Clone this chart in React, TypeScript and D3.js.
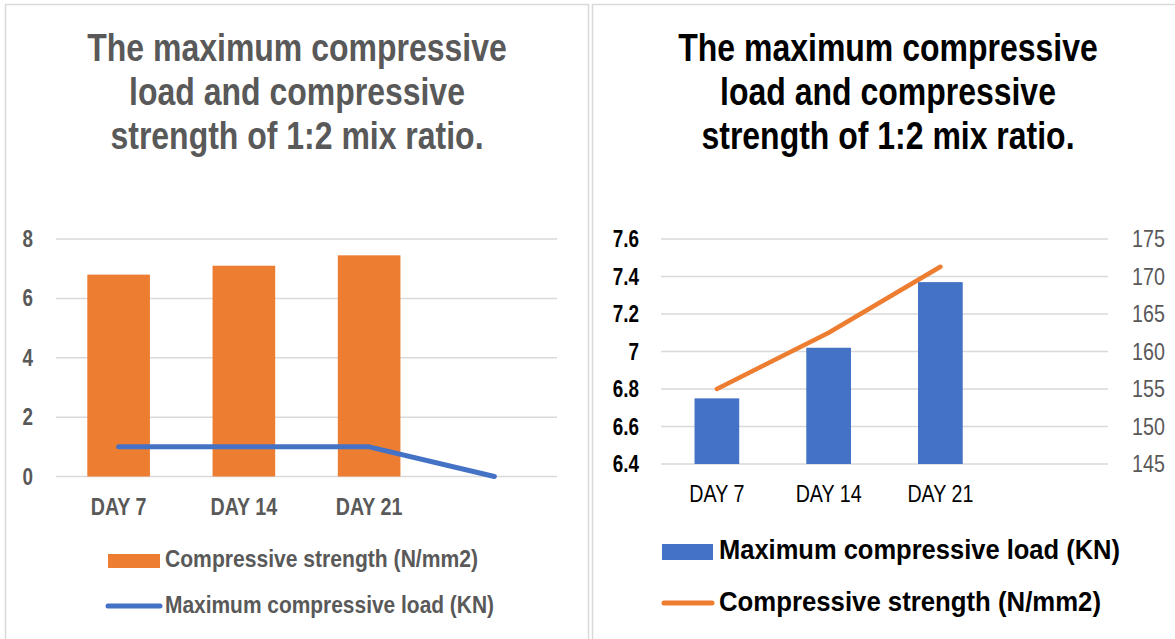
import React from "react";
import * as d3 from "d3";

const categories = ["DAY 7", "DAY 14", "DAY 21", ""];
const leftStrength = [6.8, 7.1, 7.45];
const leftLoad = [1, 1, 1, 0];
const leftTicks = [0, 2, 4, 6, 8];

const rightLoad = [6.75, 7.02, 7.37];
const rightStrength = [155, 162.5, 171.3];
const rightLeftTicks = [6.4, 6.6, 6.8, 7, 7.2, 7.4, 7.6];
const rightRightTicks = [145, 150, 155, 160, 165, 170, 175];

const titleLines = ["The maximum compressive", "load and compressive", "strength of 1:2 mix ratio."];
const strengthLabel = "Compressive strength (N/mm2)";
const loadLabel = "Maximum compressive load (KN)";

const ORANGE = "#ED7D31";
const BLUE = "#4472C4";
const GRID = "#D9D9D9";
const GRAY = "#595959";
const FONT = "'Liberation Sans', Arial, sans-serif";
const SX = 0.82;

function NText({ x, y, anchor = "start", size, weight = "bold", fill, children, width }: any) {
  if (width) {
    return (
      <text x={x} y={y} textAnchor={anchor} fontSize={size} fontWeight={weight} fill={fill}
        fontFamily={FONT} textLength={width} lengthAdjust="spacingAndGlyphs">{children}</text>
    );
  }
  return (
    <text transform={`translate(${x},${y}) scale(${SX},1)`} textAnchor={anchor} fontSize={size}
      fontWeight={weight} fill={fill} fontFamily={FONT}>{children}</text>
  );
}

function LeftChart() {
  const x = d3.scaleBand<string>().domain(categories).range([56, 557]).paddingInner(0.5).paddingOuter(0.25);
  const y = d3.scaleLinear().domain([0, 8]).range([476.5, 239]);
  const cx = (c: string) => (x(c) as number) + x.bandwidth() / 2;
  const line = d3.line<number>().x((_, i) => cx(categories[i])).y((d) => y(d));
  return (
    <g>
      <rect x={5.5} y={4.5} width={583} height={660} fill="#fff" stroke={GRID} strokeWidth={1.5} />
      {titleLines.map((t, i) => (
        <NText key={i} x={297} y={61 + i * 44} anchor="middle" size={39} fill={GRAY}>{t}</NText>
      ))}
      {leftTicks.map((t) => (
        <g key={t}>
          <line x1={56} x2={557} y1={y(t)} y2={y(t)} stroke={GRID} strokeWidth={1.5} />
          <NText x={33} y={y(t) + 8} anchor="end" size={23} fill={GRAY}>{String(t)}</NText>
        </g>
      ))}
      {leftStrength.map((v, i) => (
        <rect key={i} x={x(categories[i])} y={y(v)} width={x.bandwidth()} height={y(0) - y(v)} fill={ORANGE} />
      ))}
      <path d={line(leftLoad) as string} fill="none" stroke={BLUE} strokeWidth={5} strokeLinecap="round" strokeLinejoin="round" />
      {categories.map((c) => (
        <NText key={c} x={cx(c)} y={515} anchor="middle" size={24} fill={GRAY}>{c}</NText>
      ))}
      <rect x={108} y={554} width={52} height={14} fill={ORANGE} />
      <NText x={165} y={567} size={24} fill={GRAY} width={313}>{strengthLabel}</NText>
      <line x1={108} x2={160} y1={606} y2={606} stroke={BLUE} strokeWidth={5} strokeLinecap="round" />
      <NText x={165} y={613} size={24} fill={GRAY} width={329}>{loadLabel}</NText>
    </g>
  );
}

function RightChart() {
  const x = d3.scaleBand<string>().domain(categories).range([661, 1108]).paddingInner(0.6).paddingOuter(0.3);
  const yL = d3.scaleLinear().domain([6.4, 7.6]).range([464, 239]);
  const yR = d3.scaleLinear().domain([145, 175]).range([464, 239]);
  const cx = (c: string) => (x(c) as number) + x.bandwidth() / 2;
  const line = d3.line<number>().x((_, i) => cx(categories[i])).y((d) => yR(d));
  return (
    <g>
      <rect x={592.5} y={4.5} width={620} height={660} fill="#fff" stroke={GRID} strokeWidth={1.5} />
      {titleLines.map((t, i) => (
        <NText key={i} x={888} y={61 + i * 44} anchor="middle" size={39} fill="#000">{t}</NText>
      ))}
      {rightLeftTicks.map((t) => (
        <g key={t}>
          <line x1={661} x2={1108} y1={yL(t)} y2={yL(t)} stroke={GRID} strokeWidth={1.5} />
          <NText x={639} y={yL(t) + 8} anchor="end" size={23} fill="#000">{String(t)}</NText>
        </g>
      ))}
      {rightRightTicks.map((t) => (
        <NText key={t} x={1132} y={yR(t) + 8} anchor="start" size={24} weight="normal" fill={GRAY}>{String(t)}</NText>
      ))}
      {rightLoad.map((v, i) => (
        <rect key={i} x={x(categories[i])} y={yL(v)} width={x.bandwidth()} height={yL(6.4) - yL(v)} fill={BLUE} />
      ))}
      <path d={line(rightStrength) as string} fill="none" stroke={ORANGE} strokeWidth={4.5} strokeLinecap="round" strokeLinejoin="round" />
      {categories.map((c) => (
        <NText key={c} x={cx(c)} y={502} anchor="middle" size={24} weight="normal" fill="#000">{c}</NText>
      ))}
      <rect x={662} y={544} width={51} height={16} fill={BLUE} />
      <NText x={719} y={559} size={27} fill="#000" width={401}>{loadLabel}</NText>
      <line x1={664} x2={712} y1={603} y2={603} stroke={ORANGE} strokeWidth={5} strokeLinecap="round" />
      <NText x={719} y={611} size={27} fill="#000" width={382}>{strengthLabel}</NText>
    </g>
  );
}

export default function App() {
  return (
    <svg width={1175} height={639} style={{ position: "absolute", left: 0, top: 0, background: "#fff" }}>
      <rect x={0} y={0} width={1175} height={639} fill="#fff" />
      <LeftChart />
      <RightChart />
    </svg>
  );
}
